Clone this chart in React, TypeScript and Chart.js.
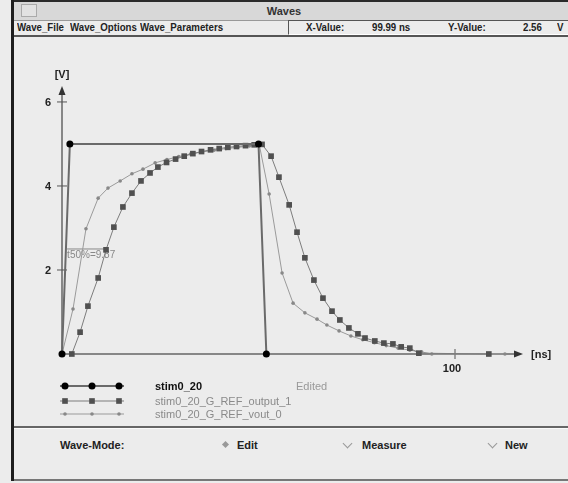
import React, { useEffect, useRef } from "react";
import { Chart, registerables } from "chart.js";

Chart.register(...registerables);

// ---- data (time in ns, voltage in V) ----
const stimTime = [0, 2, 50, 52];
const stimVolt = [0, 5, 5, 0];

const outputTime = [
  2.5, 4.6, 6.6, 9.2, 11.2, 13.2, 15.5, 17.8, 20.1, 22.4, 24.4, 26.6, 28.9, 31.1, 33.3, 35.5,
  37.8, 40, 42.2, 44.4, 46.7, 48.9, 50.9, 53.2, 55.2, 57.8, 59.8, 61.8, 64.1, 66.4, 68.7, 70.7,
  73.0, 75.3, 77.1, 79.6, 81.9, 84.2, 86.3, 88.5, 90.8, 108.6,
];
const outputVolt = [
  0, 0.52, 1.14, 1.81, 2.48, 3.02, 3.5, 3.83, 4.12, 4.31, 4.45, 4.56, 4.64, 4.71, 4.77, 4.82,
  4.86, 4.89, 4.92, 4.94, 4.96, 4.98, 4.99, 4.71, 4.21, 3.55, 2.9, 2.29, 1.76, 1.33, 1.02, 0.81,
  0.62, 0.48, 0.38, 0.31, 0.26, 0.24, 0.17, 0.14, 0.02, 0,
];

const voutTime = [
  0, 2.8, 6.1, 9.2, 11.7, 14.8, 17.8, 20.6, 23.7, 26.7, 29.7, 32.7, 35.7, 38.7, 41.7, 44.7, 47.7,
  50.2, 52.7, 56.0, 58.8, 61.8, 64.9, 67.4, 70.5, 73.5, 76.5, 79.5, 82.5, 85.5, 88.5, 91.5, 94.1,
  112.7,
];
const voutVolt = [
  0, 1.07, 2.98, 3.71, 3.95, 4.12, 4.29, 4.4, 4.55, 4.63, 4.7, 4.76, 4.81, 4.85, 4.89, 4.92, 4.95,
  4.98, 3.81, 1.93, 1.21, 0.98, 0.83, 0.69, 0.55, 0.43, 0.34, 0.27, 0.2, 0.14, 0.09, 0.05, 0, 0,
];

const seriesNames = ["stim0_20", "stim0_20_G_REF_output_1", "stim0_20_G_REF_vout_0"];
const yTickValues = [2, 4, 6];
const xTickValues = [100];
const yAxisLabel = "[V]";
const xAxisLabel = "[ns]";
const measureLevel = 2.5;
const measureFrom = 1.3;
const measureTo = 11.3;
const measureText = "t50%=9.87";

const FONT = '"Liberation Sans", Arial, sans-serif';

function toPoints(xs: number[], ys: number[]) {
  return xs.map((x, i) => ({ x, y: ys[i] }));
}

const axisPlugin = {
  id: "waveAxes",
  beforeDatasetsDraw(chart: any) {
    const { ctx, chartArea } = chart;
    const xs = chart.scales.x;
    const ys = chart.scales.y;
    const x0 = xs.getPixelForValue(0);
    const y0 = ys.getPixelForValue(0);
    ctx.save();
    ctx.strokeStyle = "#666";
    ctx.fillStyle = "#333";
    ctx.lineWidth = 1.5;
    // y axis
    ctx.beginPath();
    ctx.moveTo(x0, y0);
    ctx.lineTo(x0, chartArea.top + 6);
    ctx.stroke();
    ctx.beginPath();
    ctx.moveTo(x0, chartArea.top);
    ctx.lineTo(x0 - 3.5, chartArea.top + 9);
    ctx.lineTo(x0 + 3.5, chartArea.top + 9);
    ctx.closePath();
    ctx.fill();
    // x axis
    ctx.beginPath();
    ctx.moveTo(x0, y0);
    ctx.lineTo(chartArea.right - 6, y0);
    ctx.stroke();
    ctx.beginPath();
    ctx.moveTo(chartArea.right, y0);
    ctx.lineTo(chartArea.right - 9, y0 - 3.5);
    ctx.lineTo(chartArea.right - 9, y0 + 3.5);
    ctx.closePath();
    ctx.fill();
    // ticks
    ctx.lineWidth = 1;
    ctx.strokeStyle = "#555";
    ctx.fillStyle = "#222";
    ctx.font = "bold 11px " + FONT;
    yTickValues.forEach((v) => {
      const py = ys.getPixelForValue(v);
      ctx.beginPath();
      ctx.moveTo(x0 - 5, py);
      ctx.lineTo(x0 + 5, py);
      ctx.stroke();
      ctx.textAlign = "right";
      ctx.textBaseline = "middle";
      ctx.fillText(String(v), x0 - 11, py + 1);
    });
    xTickValues.forEach((v) => {
      const px = xs.getPixelForValue(v);
      ctx.beginPath();
      ctx.moveTo(px, y0 - 5);
      ctx.lineTo(px, y0 + 5);
      ctx.stroke();
      ctx.textAlign = "center";
      ctx.textBaseline = "top";
      ctx.fillText(String(v), px - 3, y0 + 9);
    });
    ctx.textAlign = "center";
    ctx.textBaseline = "bottom";
    ctx.fillText(yAxisLabel, x0, chartArea.top - 6);
    ctx.textAlign = "left";
    ctx.textBaseline = "middle";
    ctx.fillText(xAxisLabel, chartArea.right + 8, y0 + 1);
    // 50% measurement marker
    const my = ys.getPixelForValue(measureLevel);
    ctx.strokeStyle = "#888";
    ctx.beginPath();
    ctx.moveTo(xs.getPixelForValue(measureFrom), my);
    ctx.lineTo(xs.getPixelForValue(measureTo), my);
    ctx.stroke();
    ctx.fillStyle = "#888";
    ctx.font = "10px " + FONT;
    ctx.textAlign = "left";
    ctx.textBaseline = "top";
    ctx.fillText(measureText, xs.getPixelForValue(measureFrom), my + 1);
    ctx.restore();
  },
  afterDraw(chart: any) {
    const { ctx } = chart;
    const rows = [349, 364, 377];
    const marks = [53, 80, 107];
    ctx.save();
    chart.data.datasets.forEach((ds: any, i: number) => {
      const yy = rows[i];
      ctx.strokeStyle = ds.borderColor;
      ctx.lineWidth = ds.borderWidth;
      ctx.beginPath();
      ctx.moveTo(48, yy);
      ctx.lineTo(112, yy);
      ctx.stroke();
      marks.forEach((mx) => {
        ctx.fillStyle = ds.pointBackgroundColor;
        ctx.beginPath();
        if (ds.pointStyle === "rect") {
          const s = ds.pointRadius * Math.SQRT1_2;
          ctx.rect(mx - s, yy - s, 2 * s, 2 * s);
        } else {
          ctx.arc(mx, yy, ds.pointRadius, 0, Math.PI * 2);
        }
        ctx.fill();
      });
      ctx.font = (i === 0 ? "bold " : "") + "11px " + FONT;
      ctx.fillStyle = i === 0 ? "#111" : "#8a8a8a";
      ctx.textAlign = "left";
      ctx.textBaseline = "middle";
      ctx.fillText(ds.label, 143, yy + 1);
    });
    ctx.font = "11px " + FONT;
    ctx.fillStyle = "#999";
    ctx.fillText("Edited", 284, rows[0] + 1);
    ctx.restore();
  },
};

function WaveChart() {
  const ref = useRef<HTMLCanvasElement | null>(null);
  useEffect(() => {
    if (!ref.current) return;
    const chart = new Chart(ref.current, {
      type: "scatter",
      data: {
        datasets: [
          {
            label: seriesNames[0],
            data: toPoints(stimTime, stimVolt),
            showLine: true,
            borderColor: "#6a6a6a",
            borderWidth: 2,
            pointStyle: "circle",
            pointRadius: 3.5,
            pointBackgroundColor: "#000",
            pointBorderWidth: 0,
            clip: false,
          } as any,
          {
            label: seriesNames[1],
            data: toPoints(outputTime, outputVolt),
            showLine: true,
            borderColor: "#7c7c7c",
            borderWidth: 1,
            pointStyle: "rect",
            pointRadius: 4,
            pointBackgroundColor: "#505050",
            pointBorderWidth: 0,
            clip: false,
          } as any,
          {
            label: seriesNames[2],
            data: toPoints(voutTime, voutVolt),
            showLine: true,
            borderColor: "#9a9a9a",
            borderWidth: 1,
            pointStyle: "circle",
            pointRadius: 1.8,
            pointBackgroundColor: "#888",
            pointBorderWidth: 0,
            clip: false,
          } as any,
        ],
      },
      options: {
        animation: false,
        responsive: false,
        devicePixelRatio: 1,
        layout: { padding: { left: 50, right: 45, top: 49, bottom: 73 } },
        plugins: { legend: { display: false }, tooltip: { enabled: false } },
        scales: {
          x: { type: "linear", min: 0, max: 117.3, display: false },
          y: { type: "linear", min: 0, max: 6.38, display: false },
        },
      },
      plugins: [axisPlugin],
    });
    return () => chart.destroy();
  }, []);
  return (
    <canvas
      ref={ref}
      width={556}
      height={390}
      style={{ position: "absolute", left: 12, top: 37, width: 556, height: 390 }}
    />
  );
}

const txt = (left: number, top: number, s: string, extra: any = {}) => (
  <span
    style={{
      position: "absolute",
      left,
      top,
      fontSize: 11,
      fontWeight: "bold",
      lineHeight: "12px",
      whiteSpace: "nowrap",
      color: "#222",
      ...extra,
    }}
  >
    {s}
  </span>
);

const condensed = { fontSize: 11, transform: "scaleX(0.88)", transformOrigin: "left center" };

export default function App() {
  useEffect(() => {
    document.body.style.margin = "0";
  }, []);
  return (
    <div
      style={{
        position: "relative",
        width: 568,
        height: 483,
        background: "#ececec",
        overflow: "hidden",
        fontFamily: FONT,
      }}
    >
      {/* left frame */}
      <div style={{ position: "absolute", left: 11, top: 0, width: 3, height: 481, background: "#1e1e1e" }} />
      {/* title bar */}
      <div
        style={{
          position: "absolute",
          left: 14,
          top: 0,
          width: 554,
          height: 18,
          background: "#d8d8d8",
          borderTop: "2px solid #2a2a2a",
          borderBottom: "1px solid #999",
        }}
      />
      <div
        style={{
          position: "absolute",
          left: 21,
          top: 4,
          width: 14,
          height: 11,
          border: "1px solid #aaa",
          background: "#e2e2e2",
        }}
      />
      {txt(0, 5, "Waves", { width: 568, textAlign: "center", color: "#333" })}
      {/* menu row */}
      {txt(17, 21, "Wave_File", condensed)}
      {txt(70, 21, "Wave_Options", condensed)}
      {txt(140, 21, "Wave_Parameters", condensed)}
      <div
        style={{
          position: "absolute",
          left: 288,
          top: 20,
          width: 300,
          height: 13,
          borderTop: "1px solid #555",
          borderLeft: "1px solid #555",
          borderBottom: "1px solid #fff",
        }}
      />
      {txt(306, 21, "X-Value:", condensed)}
      {txt(372, 21, "99.99 ns", condensed)}
      {txt(448, 21, "Y-Value:", condensed)}
      {txt(523, 21, "2.56", condensed)}
      {txt(557, 21, "V", condensed)}
      <div style={{ position: "absolute", left: 14, top: 35, width: 554, height: 2, background: "#555" }} />
      <WaveChart />
      {/* bottom panel */}
      <div style={{ position: "absolute", left: 14, top: 426, width: 554, height: 2, background: "#666" }} />
      <div style={{ position: "absolute", left: 14, top: 428, width: 554, height: 1, background: "#fafafa" }} />
      {txt(60, 439, "Wave-Mode:")}
      <div
        style={{
          position: "absolute",
          left: 223,
          top: 442,
          width: 5,
          height: 5,
          background: "#999",
          transform: "rotate(45deg)",
        }}
      />
      {txt(237, 439, "Edit")}
      <div
        style={{
          position: "absolute",
          left: 344,
          top: 440,
          width: 6,
          height: 6,
          borderRight: "1px solid #999",
          borderBottom: "1px solid #999",
          transform: "rotate(45deg)",
        }}
      />
      {txt(362, 439, "Measure")}
      <div
        style={{
          position: "absolute",
          left: 489,
          top: 440,
          width: 6,
          height: 6,
          borderRight: "1px solid #999",
          borderBottom: "1px solid #999",
          transform: "rotate(45deg)",
        }}
      />
      {txt(505, 439, "New")}
      <div style={{ position: "absolute", left: 14, top: 479, width: 554, height: 2, background: "#777" }} />
    </div>
  );
}
